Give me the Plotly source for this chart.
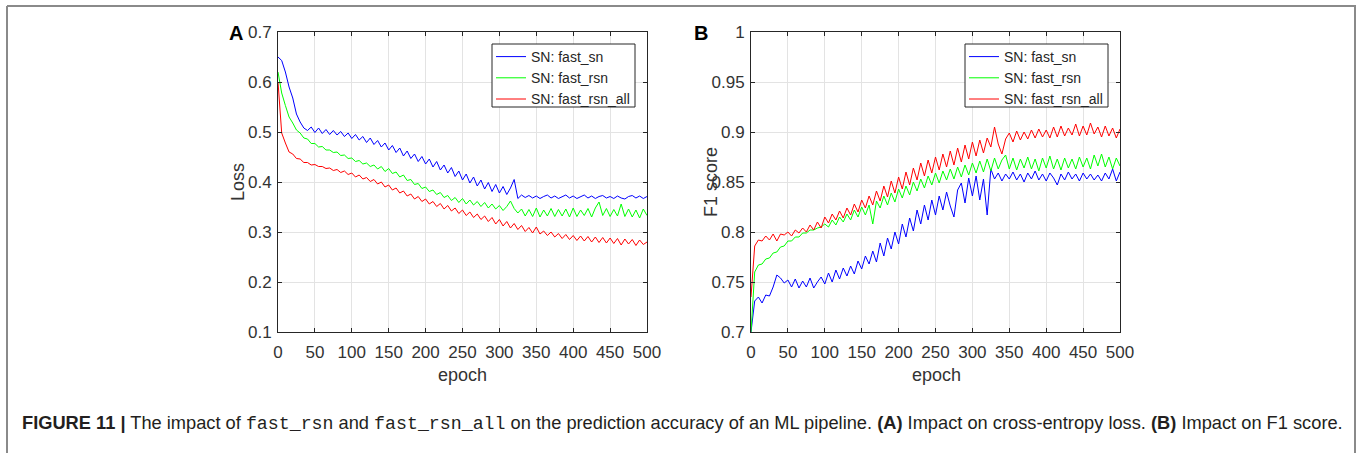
import plotly.graph_objects as go

W, H = 1357, 453

# ---------------- data (sampled every 5 epochs) ----------------
epochs = list(range(0, 501, 5))

loss_fast_sn = [
    0.650, 0.643, 0.620, 0.590, 0.568, 0.536, 0.520, 0.508, 0.503, 0.510,
    0.499, 0.508, 0.497, 0.505, 0.495, 0.503, 0.494, 0.501, 0.491, 0.498,
    0.487, 0.495, 0.484, 0.491, 0.479, 0.488, 0.475, 0.483, 0.470, 0.478,
    0.464, 0.473, 0.459, 0.468, 0.452, 0.462, 0.447, 0.456, 0.441, 0.451,
    0.436, 0.446, 0.430, 0.441, 0.424, 0.434, 0.418, 0.429, 0.411, 0.422,
    0.404, 0.416, 0.398, 0.410, 0.392, 0.404, 0.386, 0.399, 0.381, 0.395,
    0.378, 0.391, 0.375, 0.388, 0.405, 0.367, 0.374, 0.369, 0.373, 0.368,
    0.372, 0.367, 0.371, 0.374, 0.368, 0.372, 0.367, 0.371, 0.374, 0.368,
    0.372, 0.367, 0.371, 0.374, 0.368, 0.372, 0.367, 0.371, 0.373, 0.368,
    0.371, 0.367, 0.372, 0.368, 0.366, 0.371, 0.373, 0.368, 0.372, 0.367,
    0.371]

loss_fast_rsn = [
    0.620, 0.578, 0.553, 0.530, 0.518, 0.504, 0.498, 0.488, 0.486, 0.477,
    0.477, 0.470, 0.471, 0.464, 0.464, 0.459, 0.460, 0.453, 0.454, 0.447,
    0.448, 0.441, 0.443, 0.436, 0.438, 0.431, 0.434, 0.426, 0.431, 0.421,
    0.427, 0.417, 0.420, 0.410, 0.414, 0.403, 0.405, 0.395, 0.397, 0.387,
    0.390, 0.381, 0.384, 0.375, 0.379, 0.369, 0.373, 0.363, 0.369, 0.359,
    0.367, 0.356, 0.364, 0.354, 0.361, 0.351, 0.359, 0.348, 0.356, 0.346,
    0.353, 0.343, 0.351, 0.362, 0.347, 0.338, 0.346, 0.332, 0.345, 0.331,
    0.348, 0.330, 0.344, 0.332, 0.347, 0.331, 0.345, 0.332, 0.346, 0.330,
    0.348, 0.331, 0.344, 0.333, 0.347, 0.330, 0.348, 0.360, 0.333, 0.347,
    0.331, 0.345, 0.332, 0.356, 0.331, 0.346, 0.330, 0.344, 0.328, 0.346,
    0.333]

loss_fast_rsn_all = [
    0.600, 0.498, 0.478, 0.460, 0.456, 0.447, 0.446, 0.439, 0.439, 0.434,
    0.435, 0.431, 0.431, 0.427, 0.428, 0.423, 0.425, 0.419, 0.422, 0.415,
    0.418, 0.410, 0.414, 0.406, 0.409, 0.401, 0.405, 0.396, 0.400, 0.390,
    0.394, 0.384, 0.388, 0.378, 0.382, 0.372, 0.376, 0.366, 0.371, 0.361,
    0.366, 0.356, 0.361, 0.351, 0.357, 0.346, 0.353, 0.342, 0.348, 0.337,
    0.344, 0.333, 0.340, 0.329, 0.336, 0.325, 0.332, 0.321, 0.329, 0.316,
    0.325, 0.312, 0.321, 0.308, 0.317, 0.305, 0.313, 0.301, 0.309, 0.298,
    0.310, 0.296, 0.302, 0.293, 0.300, 0.290, 0.297, 0.287, 0.295, 0.285,
    0.293, 0.283, 0.292, 0.282, 0.291, 0.280, 0.290, 0.279, 0.289, 0.278,
    0.288, 0.277, 0.287, 0.274, 0.286, 0.276, 0.285, 0.273, 0.284, 0.275,
    0.280]

f1_fast_sn = [
    0.700, 0.731, 0.735, 0.729, 0.737, 0.736, 0.745, 0.757, 0.754, 0.749,
    0.752, 0.745, 0.753, 0.744, 0.751, 0.745, 0.754, 0.744, 0.750, 0.755,
    0.748, 0.759, 0.750, 0.762, 0.753, 0.764, 0.756, 0.766, 0.758, 0.771,
    0.763, 0.776, 0.768, 0.781, 0.770, 0.789, 0.776, 0.794, 0.783, 0.800,
    0.788, 0.808, 0.795, 0.814, 0.801, 0.822, 0.808, 0.827, 0.812, 0.832,
    0.817, 0.836, 0.822, 0.840, 0.826, 0.815, 0.842, 0.849, 0.829, 0.854,
    0.836, 0.856, 0.832, 0.853, 0.817, 0.863, 0.853, 0.859, 0.851, 0.858,
    0.853, 0.860, 0.852, 0.858, 0.850, 0.859, 0.853, 0.861, 0.852, 0.858,
    0.851, 0.859, 0.854, 0.847, 0.858, 0.852, 0.860, 0.853, 0.858, 0.851,
    0.859, 0.853, 0.858, 0.852, 0.857, 0.851, 0.859, 0.853, 0.863, 0.851,
    0.860]

f1_fast_rsn = [
    0.700, 0.760, 0.767, 0.768, 0.773, 0.774, 0.779, 0.780, 0.785, 0.786,
    0.791, 0.791, 0.795, 0.795, 0.799, 0.799, 0.802, 0.802, 0.804, 0.805,
    0.808, 0.805, 0.812, 0.807, 0.815, 0.810, 0.818, 0.812, 0.822, 0.815,
    0.825, 0.817, 0.827, 0.808, 0.831, 0.824, 0.836, 0.827, 0.839, 0.830,
    0.843, 0.834, 0.846, 0.837, 0.850, 0.841, 0.853, 0.844, 0.856, 0.847,
    0.859, 0.849, 0.861, 0.852, 0.863, 0.853, 0.865, 0.855, 0.867, 0.857,
    0.869, 0.859, 0.871, 0.860, 0.873, 0.861, 0.874, 0.863, 0.872, 0.877,
    0.863, 0.874, 0.862, 0.873, 0.864, 0.875, 0.863, 0.873, 0.861, 0.874,
    0.864, 0.876, 0.863, 0.873, 0.862, 0.874, 0.864, 0.873, 0.863, 0.875,
    0.865, 0.874, 0.863, 0.877, 0.866, 0.878, 0.865, 0.875, 0.863, 0.874,
    0.866]

f1_fast_rsn_all = [
    0.735, 0.786, 0.792, 0.791, 0.796, 0.792, 0.798, 0.791, 0.798, 0.797,
    0.800, 0.796, 0.802, 0.799, 0.804, 0.800, 0.807, 0.802, 0.810, 0.804,
    0.815, 0.809, 0.818, 0.812, 0.821, 0.814, 0.824, 0.817, 0.828, 0.820,
    0.832, 0.824, 0.836, 0.827, 0.841, 0.831, 0.846, 0.835, 0.851, 0.839,
    0.855, 0.843, 0.860, 0.847, 0.864, 0.852, 0.869, 0.856, 0.872, 0.859,
    0.875, 0.862, 0.878, 0.865, 0.881, 0.867, 0.884, 0.870, 0.887, 0.873,
    0.890, 0.876, 0.892, 0.879, 0.894, 0.885, 0.905, 0.888, 0.878, 0.893,
    0.899, 0.890, 0.901, 0.892, 0.900, 0.893, 0.902, 0.894, 0.903, 0.895,
    0.902, 0.894, 0.905, 0.895, 0.906, 0.896, 0.904, 0.897, 0.908, 0.896,
    0.906, 0.897, 0.909, 0.898, 0.905, 0.895, 0.906, 0.896, 0.904, 0.894,
    0.903]

series_names = ["SN: fast_sn", "SN: fast_rsn", "SN: fast_rsn_all"]
series_colors = ["#0000FF", "#00FF00", "#FF0000"]

x_ticks = [0, 50, 100, 150, 200, 250, 300, 350, 400, 450, 500]
loss_ticks = [0.1, 0.2, 0.3, 0.4, 0.5, 0.6, 0.7]
loss_ticktext = ["0.1", "0.2", "0.3", "0.4", "0.5", "0.6", "0.7"]
f1_ticks = [0.7, 0.75, 0.8, 0.85, 0.9, 0.95, 1.0]
f1_ticktext = ["0.7", "0.75", "0.8", "0.85", "0.9", "0.95", "1"]

caption = ("<b>FIGURE 11 |</b> The impact of "
           "<span style='font-family:Liberation Mono'>fast_rsn</span> and "
           "<span style='font-family:Liberation Mono'>fast_rsn_all</span> "
           "on the prediction accuracy of an ML pipeline. <b>(A)</b> Impact on "
           "cross-entropy loss. <b>(B)</b> Impact on F1 score.")

# ---------------- helpers for pixel placement ----------------
def px(x):
    return x / W

def py(y):
    return 1 - y / H

AX = "#262626"
TXT = "#333333"
FONT = "Liberation Sans, Arial, sans-serif"

fig = go.Figure()

for vals, name, col in zip([loss_fast_sn, loss_fast_rsn, loss_fast_rsn_all],
                           series_names, series_colors):
    fig.add_trace(go.Scatter(x=epochs, y=vals, mode="lines", name=name,
                             line=dict(color=col, width=1),
                             xaxis="x", yaxis="y", legend="legend"))

for vals, name, col in zip([f1_fast_sn, f1_fast_rsn, f1_fast_rsn_all],
                           series_names, series_colors):
    fig.add_trace(go.Scatter(x=epochs, y=vals, mode="lines", name=name,
                             line=dict(color=col, width=1),
                             xaxis="x2", yaxis="y2", legend="legend2"))

common_axis = dict(showline=True, linecolor=AX, linewidth=1, mirror="allticks",
                   ticks="inside", ticklen=4, tickcolor=AX, automargin=False,
                   showgrid=True, gridcolor="#e3e3e3", gridwidth=1,
                   zeroline=False, tickfont=dict(family=FONT, size=17, color=TXT))

y0p, y1p = py(332), py(32)

legend_common = dict(xanchor="left", yanchor="top", bgcolor="rgba(0,0,0,0)",
                     borderwidth=0, font=dict(family=FONT, size=14, color=AX),
                     tracegroupgap=0, itemwidth=30)

fig.update_layout(
    width=W, height=H,
    margin=dict(l=0, r=0, t=0, b=0, autoexpand=False),
    paper_bgcolor="white", plot_bgcolor="white",
    xaxis=dict(domain=[px(278), px(647)], range=[0, 500], tickvals=x_ticks,
               anchor="y", ticklabelstandoff=5, **common_axis),
    yaxis=dict(domain=[y0p, y1p], range=[0.1, 0.7], tickvals=loss_ticks,
               ticktext=loss_ticktext, anchor="x", ticklabelstandoff=2, **common_axis),
    xaxis2=dict(domain=[px(751), px(1120)], range=[0, 500], tickvals=x_ticks,
                anchor="y2", ticklabelstandoff=5, **common_axis),
    yaxis2=dict(domain=[y0p, y1p], range=[0.7, 1.0], tickvals=f1_ticks,
                ticktext=f1_ticktext, anchor="x2", ticklabelstandoff=2, **common_axis),
    legend=dict(x=px(491), y=py(41), **legend_common),
    legend2=dict(x=px(964), y=py(41), **legend_common),
    showlegend=True,
)

def label(text, x, y, size, angle=0, color=TXT, xanchor="center", family=FONT):
    return dict(text=text, x=px(x), y=py(y), xref="paper", yref="paper",
                xanchor=xanchor, yanchor="middle", showarrow=False,
                textangle=angle, font=dict(family=family, size=size, color=color))

ann = [
    label("epoch", 462, 375, 18),
    label("epoch", 936, 375, 18),
    label("Loss", 238, 182, 18, angle=-90),
    label("F1 score", 711, 182, 18, angle=-90),
    label("<b>A</b>", 236, 33, 20, color="black"),
    label("<b>B</b>", 701, 33, 20, color="black"),
    label(caption, 20, 423, 18.25, color="#231f20", xanchor="left",
          family="Liberation Sans Narrow, Arial Narrow, Liberation Sans, sans-serif"),
]
fig.update_layout(annotations=ann)

# legend frames (drawn under the legend, above the curves)
for lx0, lx1 in [(492, 635), (965, 1108)]:
    fig.add_shape(type="rect", xref="paper", yref="paper", layer="above",
                  x0=px(lx0), x1=px(lx1), y0=py(107), y1=py(44),
                  fillcolor="white", line=dict(color=AX, width=1))

# outer figure frame
fig.add_shape(type="line", xref="paper", yref="paper",
              x0=px(7), x1=px(7), y0=py(6), y1=py(460),
              line=dict(color="#8a8a8a", width=2))
fig.add_shape(type="line", xref="paper", yref="paper",
              x0=px(7), x1=px(1356), y0=py(6), y1=py(6),
              line=dict(color="#8a8a8a", width=2))
fig.add_shape(type="line", xref="paper", yref="paper",
              x0=px(1355), x1=px(1355), y0=py(6), y1=py(460),
              line=dict(color="#8a8a8a", width=2))

fig.write_html("out.html",
               config={"displayModeBar": False},
               post_script="document.body.style.margin='0';"
                           "document.body.style.overflow='hidden';")
